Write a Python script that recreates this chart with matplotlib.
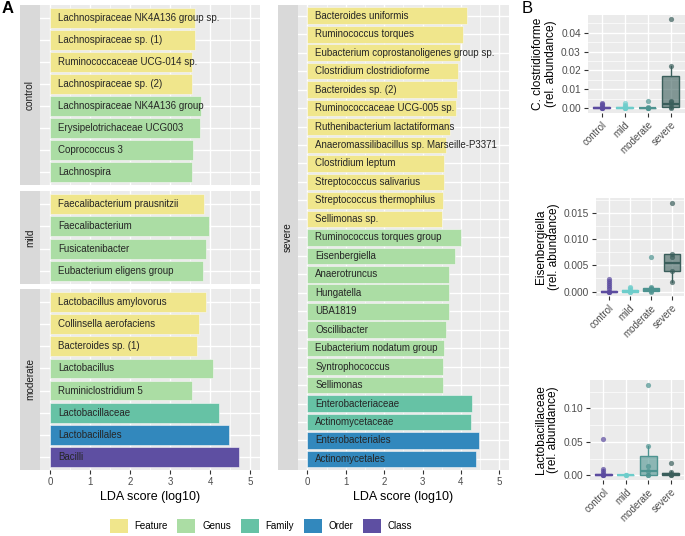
import matplotlib
matplotlib.use('Agg')
import matplotlib.pyplot as plt
from matplotlib.patches import Patch
import numpy as np

plt.rcParams['font.family'] = ['Liberation Sans', 'DejaVu Sans']

W, H = 685, 536

# ---- LEfSe data (panel A) ----
control_taxa = ['Lachnospiraceae NK4A136 group sp.', 'Lachnospiraceae sp. (1)',
                'Ruminococcaceae UCG-014 sp.', 'Lachnospiraceae sp. (2)',
                'Lachnospiraceae NK4A136 group', 'Erysipelotrichaceae UCG003',
                'Coprococcus 3', 'Lachnospira']
control_lda = [3.62, 3.62, 3.56, 3.56, 3.77, 3.75, 3.58, 3.55]
control_level = ['Feature'] * 4 + ['Genus'] * 4

mild_taxa = ['Faecalibacterium prausnitzii', 'Faecalibacterium',
             'Fusicatenibacter', 'Eubacterium eligens group']
mild_lda = [3.85, 3.97, 3.90, 3.82]
mild_level = ['Feature', 'Genus', 'Genus', 'Genus']

moderate_taxa = ['Lactobacillus amylovorus', 'Collinsella aerofaciens', 'Bacteroides sp. (1)',
                 'Lactobacillus', 'Ruminiclostridium 5', 'Lactobacillaceae',
                 'Lactobacillales', 'Bacilli']
moderate_lda = [3.90, 3.73, 3.68, 4.07, 3.55, 4.22, 4.48, 4.72]
moderate_level = ['Feature'] * 3 + ['Genus'] * 2 + ['Family', 'Order', 'Class']

severe_taxa = ['Bacteroides uniformis', 'Ruminococcus torques',
               'Eubacterium coprostanoligenes group sp.', 'Clostridium clostridioforme',
               'Bacteroides sp. (2)', 'Ruminococcaceae UCG-005 sp.',
               'Ruthenibacterium lactatiformans', 'Anaeromassilibacillus sp. Marseille-P3371',
               'Clostridium leptum', 'Streptococcus salivarius', 'Streptococcus thermophilus',
               'Sellimonas sp.', 'Ruminococcus torques group', 'Eisenbergiella',
               'Anaerotruncus', 'Hungatella', 'UBA1819', 'Oscillibacter',
               'Eubacterium nodatum group', 'Syntrophococcus', 'Sellimonas',
               'Enterobacteriaceae', 'Actinomycetaceae', 'Enterobacteriales', 'Actinomycetales']
severe_lda = [4.16, 4.06, 3.97, 3.92, 3.90, 3.87, 3.72, 3.61, 3.56, 3.55, 3.53, 3.51,
              4.00, 3.84, 3.70, 3.69, 3.68, 3.61, 3.57, 3.54, 3.52,
              4.29, 4.27, 4.48, 4.39]
severe_level = ['Feature'] * 12 + ['Genus'] * 9 + ['Family'] * 2 + ['Order'] * 2

levels = ['Feature', 'Genus', 'Family', 'Order', 'Class']
level_colors = ['#F0E68C', '#ABDDA4', '#66C2A5', '#3288BD', '#5E4FA2']

# ---- relative abundance data (panel B) ----
groups = ['control', 'mild', 'moderate', 'severe']
group_colors = ['#5B4B9F', '#6DCDCB', '#4D9390', '#3A5E5B']

clos_points = [[0, 0, 0.0003, 0.0008, 0.0015, 0.0022, 0.0026],
               [0, 0, 0.0004, 0.0010, 0.0018, 0.0026],
               [0, 0, 0.0002, 0.0008, 0.0036],
               [0.0002, 0.0008, 0.0025, 0.0035, 0.0040, 0.0221, 0.0470]]
# (whisker low, q1, median, q3, whisker high)
clos_box = [(0, 0, 0.0002, 0.0005, 0.0010),
            (0, 0, 0.0003, 0.0006, 0.0012),
            (0, 0, 0.0001, 0.0004, 0.0008),
            (0.0002, 0.0006, 0.0023, 0.0173, 0.0221)]

eisen_points = [[0, 0, 0, 0.0004, 0.0008, 0.0013, 0.0017, 0.0021, 0.0024],
                [0, 0, 0.0003, 0.0006, 0.0008],
                [0, 0.0002, 0.0004, 0.0006, 0.0008, 0.0067],
                [0.0019, 0.0040, 0.0066, 0.0072, 0.0170]]
eisen_box = [(0, 0, 0, 0.0001, 0.0002),
             (0, 0, 0.0001, 0.0003, 0.0006),
             (0, 0.0001, 0.0003, 0.0006, 0.0008),
             (0.0019, 0.0040, 0.0055, 0.0071, 0.0072)]

lacto_points = [[0, 0, 0.001, 0.003, 0.006, 0.009, 0.054],
                [0, 0, 0.0002],
                [0, 0.001, 0.0065, 0.0145, 0.044, 0.1355],
                [0, 0.001, 0.0025, 0.005, 0.019]]
lacto_box = [(0, 0, 0.0005, 0.002, 0.0095),
             (0, 0, 0, 0.0001, 0.0002),
             (0, 0.0005, 0.0065, 0.029, 0.044),
             (0, 0.0005, 0.0015, 0.004, 0.006)]


def px_axes(fig, x0, y0, x1, y1):
    return fig.add_axes([x0 / W, 1 - y1 / H, (x1 - x0) / W, (y1 - y0) / H])


def style_tick(ax):
    ax.tick_params(axis='both', which='both', color='#333333', width=0.8,
                   labelcolor='#4D4D4D', labelsize=7, pad=2)
    ax.tick_params(which='minor', length=0)
    for s in ax.spines.values():
        s.set_visible(False)


def strip(fig, x0, y0, x1, y1, text):
    sax = px_axes(fig, x0, y0, x1, y1)
    sax.set_facecolor('#D9D9D9')
    sax.set_xticks([])
    sax.set_yticks([])
    for s in sax.spines.values():
        s.set_visible(False)
    sax.text(0.5, 0.5, text, rotation=90, ha='center', va='center',
             fontsize=7.2, color='#1A1A1A', transform=sax.transAxes)


def lda_panel(fig, box, taxa, lda, lev, show_x):
    x0, y0, x1, y1 = box
    ax = px_axes(fig, x0, y0, x1, y1)
    ax.set_facecolor('#EBEBEB')
    n = len(taxa)
    pos = np.arange(n)
    cols = [level_colors[levels.index(l)] for l in lev]
    ax.barh(pos, lda, height=0.9, color=cols, edgecolor='#F7F7F7', linewidth=0.4, zorder=2)
    for p, t in zip(pos, taxa):
        ax.text(0.21, p, t, ha='left', va='center', fontsize=7, color='#262626', zorder=3)
    ax.set_xlim(-0.25, 5.25)
    ax.set_ylim(n - 0.4, -0.6)
    ax.set_xticks(range(6))
    ax.set_xticks(np.arange(0.5, 5.5, 1), minor=True)
    ax.set_yticks(pos)
    ax.set_yticklabels([])
    ax.grid(which='major', color='white', linewidth=1.0)
    ax.grid(which='minor', axis='x', color='white', linewidth=0.5)
    ax.set_axisbelow(True)
    style_tick(ax)
    ax.tick_params(axis='y', length=0)
    ax.tick_params(axis='x', length=3 if show_x else 0)
    if show_x:
        ax.set_xlabel('LDA score (log10)', fontsize=9, labelpad=3)
    else:
        ax.set_xticklabels([])
    return ax


def box_panel(fig, box, points, stats, ylabel, ticks, fmt):
    x0, y0, x1, y1 = box
    ax = px_axes(fig, x0, y0, x1, y1)
    ax.set_facecolor('#EBEBEB')
    bstats = []
    for (lo, q1, med, q3, hi) in stats:
        bstats.append({'whislo': lo, 'q1': q1, 'med': med, 'q3': q3, 'whishi': hi, 'fliers': []})
    pos = np.arange(1, len(groups) + 1)
    bp = ax.bxp(bstats, positions=pos, widths=0.75, patch_artist=True,
                showfliers=False, showcaps=False)
    for i, c in enumerate(group_colors):
        bp['boxes'][i].set_facecolor(matplotlib.colors.to_rgba(c, 0.6))
        bp['boxes'][i].set_edgecolor(c)
        bp['boxes'][i].set_linewidth(1.0)
        bp['boxes'][i].set_zorder(2)
        bp['medians'][i].set_color(c)
        bp['medians'][i].set_linewidth(1.6)
        bp['medians'][i].set_zorder(3)
        for w in bp['whiskers'][2 * i:2 * i + 2]:
            w.set_color(c)
            w.set_linewidth(1.0)
    for i, vals in enumerate(points):
        ax.scatter(np.full(len(vals), pos[i]), vals, s=14, color=group_colors[i],
                   alpha=0.7, linewidths=0, zorder=4)
    allv = np.concatenate([np.asarray(v, float) for v in points])
    lo, hi = allv.min(), allv.max()
    pad = 0.05 * (hi - lo)
    ax.set_ylim(lo - pad, hi + pad)
    ax.set_xlim(0.4, 4.6)
    ax.set_yticks(ticks)
    ax.set_yticklabels([fmt.format(t) for t in ticks])
    minor = [(a + b) / 2 for a, b in zip(ticks[:-1], ticks[1:])]
    minor.append(ticks[-1] + (ticks[1] - ticks[0]) / 2)
    ax.set_yticks(minor, minor=True)
    ax.set_xticks(pos)
    ax.set_xticklabels(groups, rotation=45, ha='right', va='top', rotation_mode='anchor')
    ax.grid(which='major', color='white', linewidth=1.0)
    ax.grid(which='minor', axis='y', color='white', linewidth=0.5)
    ax.set_axisbelow(True)
    style_tick(ax)
    ax.tick_params(which='major', length=3)
    ax.tick_params(axis='y', labelsize=7.3)
    ax.set_ylabel(ylabel, fontsize=8.6, labelpad=3, linespacing=1.05)
    return ax


fig = plt.figure(figsize=(W / 100, H / 100), dpi=100)
fig.patch.set_facecolor('white')

# panel A, left facet column
lda_panel(fig, (40, 4.7, 260, 185), control_taxa, control_lda, control_level, False)
strip(fig, 20, 4.7, 40, 185, 'control')
lda_panel(fig, (40, 191, 260, 284), mild_taxa, mild_lda, mild_level, False)
strip(fig, 20, 191, 40, 284, 'mild')
lda_panel(fig, (40, 289, 260, 470), moderate_taxa, moderate_lda, moderate_level, True)
strip(fig, 20, 289, 40, 470, 'moderate')

# panel A, severe column
lda_panel(fig, (297.7, 4.7, 509, 470), severe_taxa, severe_lda, severe_level, True)
strip(fig, 278, 4.7, 297.7, 470, 'severe')

# legend
handles = [Patch(facecolor=c, edgecolor='none', label=l) for l, c in zip(levels, level_colors)]
fig.legend(handles=handles, loc='center', bbox_to_anchor=(261 / W, 1 - 526 / H), ncol=5,
           frameon=False, fontsize=7, handlelength=1.85, handleheight=1.75,
           handletextpad=0.7, columnspacing=1.0, borderpad=0.2)

# panel B
box_panel(fig, (587.7, 15, 684.5, 112.7), clos_points, clos_box,
          'C. clostridioforme\n(rel. abundance)', [0, 0.01, 0.02, 0.03, 0.04], '{:.2f}')
box_panel(fig, (596, 198.3, 684.4, 296), eisen_points, eisen_box,
          'Eisenbergiella\n(rel. abundance)', [0, 0.005, 0.010, 0.015], '{:.3f}')
box_panel(fig, (590, 380, 684, 480), lacto_points, lacto_box,
          'Lactobacillaceae\n(rel. abundance)', [0, 0.05, 0.10], '{:.2f}')

fig.text(2 / W, 1 - 1 / H, 'A', fontsize=12, fontweight='bold', ha='left', va='top')
fig.text(522 / W, 1 - 1 / H, 'B', fontsize=12, ha='left', va='top')

fig.savefig('out.png', dpi=100, facecolor='white')
